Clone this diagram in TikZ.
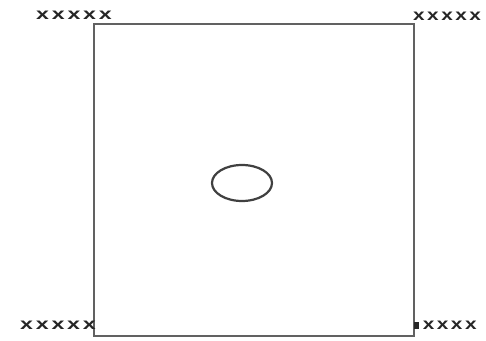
\documentclass[tikz,border=0pt]{standalone}
\usepackage{fontspec}
\setmainfont{Liberation Sans}
\usetikzlibrary{shapes.geometric}
\tikzset{
  frame/.style={draw=black!62, line width=1.6pt, minimum width=320pt, minimum height=312pt, inner sep=0pt},
  hole/.style={ellipse, draw=black!75, line width=2.2pt, minimum width=60pt, minimum height=36pt, inner sep=0pt},
  cornerlbl/.style={text=black!85, inner sep=0pt, font=\fontsize{16}{16}\selectfont\bfseries\addfontfeature{LetterSpace=12}}
}
\begin{document}
\begin{tikzpicture}[x=1pt,y=1pt]
\useasboundingbox (0,0) rectangle (486,340);
\clip (0,0) rectangle (486,340);
\fill[white] (0,0) rectangle (486,340);
\node[frame] (box) at (254,160) {};
\node[hole] (hole) at (242,157) {};
\node[cornerlbl, anchor=east] (tl) at (112,325) {\scalebox{1.45}[1]{xxxxx}};
\node[cornerlbl, anchor=west] (tr) at (413,324) {\scalebox{1.3}[1]{xxxxx}};
\node[cornerlbl, anchor=east] (bl) at (96,15) {\scalebox{1.45}[1]{xxxxx}};
\node[cornerlbl, anchor=west] (br) at (414,15) {\scalebox{1.3}[1]{\rule{4pt}{7pt}\,xxxx}};
\end{tikzpicture}
\end{document}
